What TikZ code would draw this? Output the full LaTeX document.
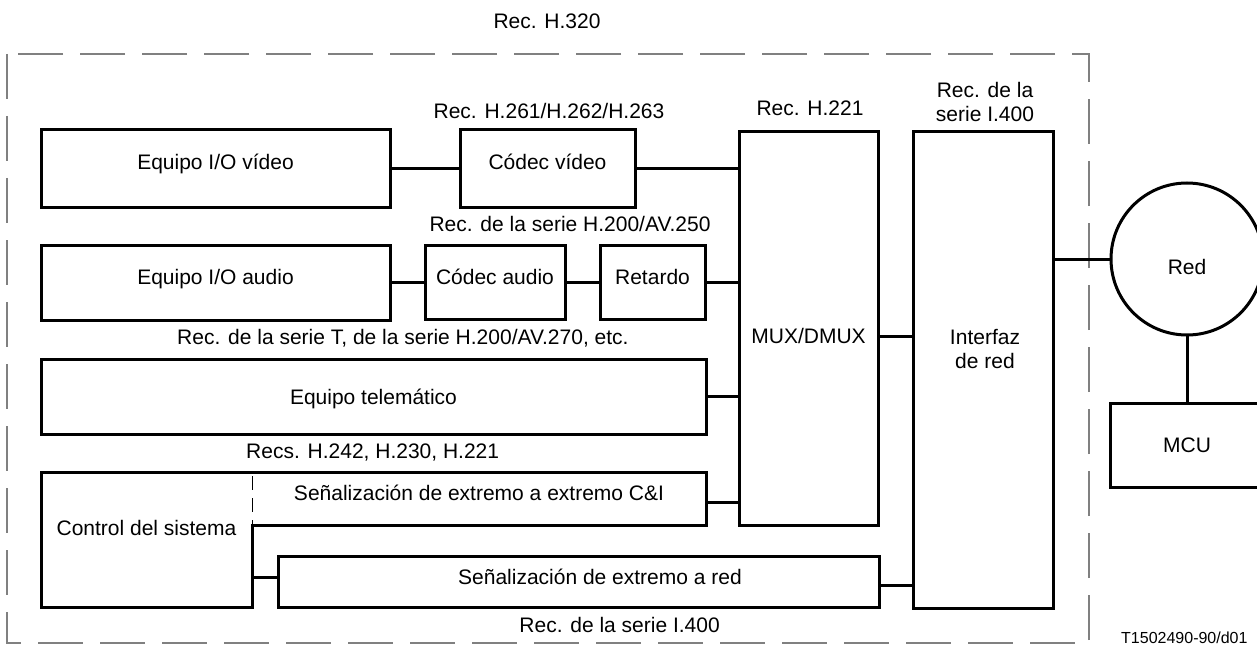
\documentclass[tikz,border=0pt]{standalone}
\usepackage{fontspec}
\setmainfont{Liberation Sans}
\usepackage{tikz}
\usetikzlibrary{calc}

\tikzset{
  blk/.style={draw, line width=3pt, outer sep=0pt, inner sep=0pt,
              text height=15pt, text depth=12pt},
  wire/.style={line width=3pt},
  rec/.style={inner sep=0pt, anchor=base},
  frame/.style={draw=gray, line width=1.3pt, dash pattern=on 45pt off 17pt},
}

\begin{document}
\begin{tikzpicture}[x=1pt, y=-1pt, font=\fontsize{21}{24}\selectfont]
\useasboundingbox (0,0) rectangle (1257,647);

% dashed frame of the terminal
\draw[frame] (7,54) rectangle (1089,643);

% video row
\node[blk, minimum width=349pt, minimum height=77pt] (vidio) at (215.5,168.5) {Equipo I/O vídeo};
\node[blk, minimum width=175pt, minimum height=77pt] (vcodec) at (547.5,168.5) {Códec vídeo};

% audio row
\node[blk, minimum width=349pt, minimum height=75pt] (aio) at (215.5,282.5) {Equipo I/O audio};
\node[blk, minimum width=140pt, minimum height=74pt] (acodec) at (495,282.5) {Códec audio};
\node[blk, minimum width=105pt, minimum height=74pt] (delay) at (652.5,282.5) {Retardo};

% telematics, control, signalling
\node[blk, minimum width=665pt, minimum height=75pt, text depth=0pt] (tele) at (373.5,396.5) {Equipo telemático};
\node[inner sep=0pt, outer sep=0pt, minimum width=211pt, minimum height=135pt,
      text height=15pt, text depth=23pt] (ctrl) at (146.5,539.5) {Control del sistema};
\node[inner sep=0pt, outer sep=0pt, minimum width=454pt, minimum height=53pt,
      text height=15pt, text depth=12pt] (ci) at (479,498.5) {Señalización de extremo a extremo C\&I};
\draw[wire, line join=miter] (ctrl.north west) -- (ci.north east) -- (ci.south east)
  -- (ci.south west) -- (ctrl.south east) -- (ctrl.south west) -- cycle;
\draw[line width=0.8pt, dash pattern=on 14pt off 8pt] ([yshift=-4pt]ci.north west) -- (ci.south west);
\node[draw, line width=3pt, outer sep=0pt, minimum width=601pt, minimum height=51pt] (netsig) at (578.5,581.5) {};
\node[inner sep=0pt] (sigtxt) at (600,577) {Señalización de extremo a red};

% multiplex, interface, network
\node[blk, minimum width=139pt, minimum height=393pt, text height=30pt, text depth=0pt] (mux) at (808.5,328.5) {MUX/DMUX};
\node[draw, line width=3pt, outer sep=0pt, minimum width=140pt, minimum height=476pt] (netif) at (983,370) {};
\node[align=center, inner sep=0pt] (iftxt) at (985,349) {Interfaz\\de red};
\node[draw, circle, line width=3pt, outer sep=0pt, inner sep=0pt, minimum size=152pt,
      text height=31pt, text depth=0pt] (red) at (1187,259) {Red};
\node[blk, minimum width=154pt, minimum height=84pt, text depth=0pt] (mcu) at (1187,445) {MCU};

% connections
\draw[wire] (vidio.east) -- (vcodec.west);
\draw[wire] (vcodec.east) -- (vcodec.east -| mux.west);
\draw[wire] (aio.east) -- (acodec.west);
\draw[wire] (acodec.east) -- (delay.west);
\draw[wire] (delay.east) -- (delay.east -| mux.west);
\draw[wire] (tele.east) -- (tele.east -| mux.west);
\draw[wire] ([yshift=-3.5pt]ci.east) -- ([yshift=-3.5pt]ci.east -| mux.west);
\draw[wire] ([yshift=-7.5pt]mux.east) -- ([yshift=-7.5pt]mux.east -| netif.west);
\draw[wire] ([yshift=4.5pt]netsig.west -| ctrl.east) -- ([yshift=4.5pt]netsig.west);
\draw[wire] ([yshift=-3.5pt]netsig.east) -- ([yshift=-3.5pt]netsig.east -| netif.west);
\draw[wire] (red.west -| netif.east) -- (red.west);
\draw[wire] (red.south) -- (mcu.north);

% recommendation labels
\node[rec] (lh320) at (547,29) {Rec. H.320};
\node[rec] (lh261) at (549,118.5) {Rec. H.261/H.262/H.263};
\node[rec] (lh221) at (810,115.5) {Rec. H.221};
\node[inner sep=0pt, align=center] (li400top) at (985,101.5) {Rec. de la\\serie I.400};
\node[rec] (lh200) at (570,231.5) {Rec. de la serie H.200/AV.250};
\node[rec, anchor=base west] (lt) at (177,344.5) {Rec. de la serie T, de la serie H.200/AV.270, etc.};
\node[rec, anchor=base west] (lh242) at (246,458.5) {Recs. H.242, H.230, H.221};
\node[rec, anchor=base east] (li400) at (720,632.5) {Rec. de la serie I.400};
\node[rec, anchor=base west, font=\fontsize{16}{18}\selectfont] (tag) at (1121,643) {T1502490-90/d01};
\end{tikzpicture}
\end{document}
